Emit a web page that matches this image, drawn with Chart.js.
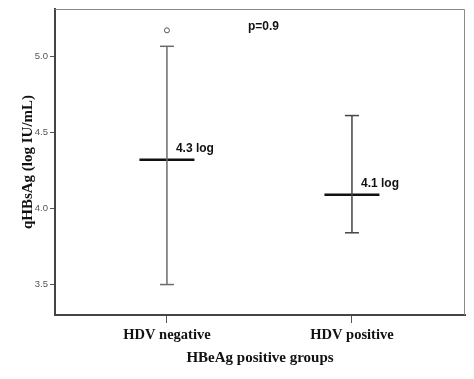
<!DOCTYPE html>
<html><head><meta charset="utf-8">
<script src="https://cdn.jsdelivr.net/npm/chart.js@4.4.1/dist/chart.umd.min.js"></script>
<style>html,body{margin:0;padding:0;background:#fff}#wrap{width:474px;height:379px}</style>
</head><body><div id="wrap"><canvas id="c" width="474" height="379"></canvas></div>
<script>
const categories = ['HDV negative', 'HDV positive'];
const medians = [4.32, 4.09];
const whiskerLow = [3.50, 3.84];
const whiskerHigh = [5.065, 4.61];
const outliers = [[5.17], []];
const medianLabels = ['4.3 log', '4.1 log'];
const yTicks = [3.5, 4.0, 4.5, 5.0];
const pLabel = 'p=0.9';

const datasets = [];
const whiskerColors = ['#6b6b6b', '#444444'];
categories.forEach((c, i) => {
  const x = i + 1;
  datasets.push({
    type: 'line',
    data: [{x: x, y: whiskerLow[i]}, {x: x, y: whiskerHigh[i]}],
    borderColor: whiskerColors[i], borderWidth: 1.5,
    pointStyle: 'line', pointRadius: 7, pointBorderColor: whiskerColors[i], pointBorderWidth: 1.5,
    pointHoverRadius: 7, clip: false
  });
  datasets.push({
    type: 'scatter',
    data: [{x: x, y: medians[i]}],
    pointStyle: 'line', pointRadius: 27.5, pointBorderColor: '#111', pointBorderWidth: 2.5,
    pointHoverRadius: 27.5, clip: false
  });
  if (outliers[i].length) {
    datasets.push({
      type: 'scatter',
      data: outliers[i].map(v => ({x: x, y: v})),
      pointStyle: 'circle', pointRadius: 2.5, pointBackgroundColor: '#fff',
      pointBorderColor: '#555', pointBorderWidth: 1, clip: false
    });
  }
});

const annot = {
  id: 'annot',
  afterDatasetsDraw(chart) {
    const {ctx, chartArea: a, scales: {x, y}} = chart;
    ctx.save();
    ctx.strokeStyle = '#8a8a8a'; ctx.lineWidth = 1;
    ctx.beginPath();
    ctx.moveTo(a.left, a.top + 0.5); ctx.lineTo(a.right - 0.5, a.top + 0.5); ctx.lineTo(a.right - 0.5, a.bottom);
    ctx.stroke();
    ctx.fillStyle = '#111';
    ctx.font = 'bold 12px "Liberation Sans", Arial, sans-serif';
    ctx.textBaseline = 'middle'; ctx.textAlign = 'left';
    medianLabels.forEach((t, i) => {
      const px = x.getPixelForValue(i + 1) + 9;
      const py = y.getPixelForValue(medians[i]) - 11;
      ctx.fillText(t, px, py);
    });
    ctx.fillText(pLabel, a.left + 193, a.top + 18);
    ctx.restore();
  }
};

new Chart(document.getElementById('c'), {
  data: {datasets},
  options: {
    responsive: false, animation: false,
    layout: {autoPadding: false, padding: {top: 9, right: 9, left: 0, bottom: 0}},
    plugins: {legend: {display: false}, tooltip: {enabled: false}},
    scales: {
      x: {
        type: 'linear', min: 0.395, max: 2.611,
        afterBuildTicks: s => { s.ticks = [{value: 1}, {value: 2}]; },
        afterFit: s => { s.height = 64; },
        border: {color: '#444', width: 2},
        grid: {drawOnChartArea: false, drawTicks: true, tickLength: 8, color: '#555', lineWidth: 1},
        ticks: {
          callback: v => categories[v - 1], color: '#111', padding: 4,
          font: {family: '"Liberation Serif", "Times New Roman", serif', size: 14.5, weight: 'bold'}
        },
        title: {
          display: true, text: 'HBeAg positive groups', color: '#111', padding: {top: 2, bottom: 12},
          font: {family: '"Liberation Serif", "Times New Roman", serif', size: 15, weight: 'bold'}
        }
      },
      y: {
        type: 'linear', min: 3.30, max: 5.31,
        afterBuildTicks: s => { s.ticks = yTicks.map(v => ({value: v})); },
        afterFit: s => { s.width = 55; },
        border: {color: '#444', width: 2},
        grid: {drawOnChartArea: false, drawTicks: true, tickLength: 5, color: '#555', lineWidth: 1},
        ticks: {
          callback: v => Number(v).toFixed(1), color: '#555', padding: 2,
          font: {family: '"Liberation Sans", Arial, sans-serif', size: 9.5}
        },
        title: {
          display: true, text: 'qHBsAg (log IU/mL)', color: '#111', padding: {top: 19, bottom: 4},
          font: {family: '"Liberation Serif", "Times New Roman", serif', size: 15, weight: 'bold'}
        }
      }
    }
  },
  plugins: [annot]
});
</script>
</body></html>
